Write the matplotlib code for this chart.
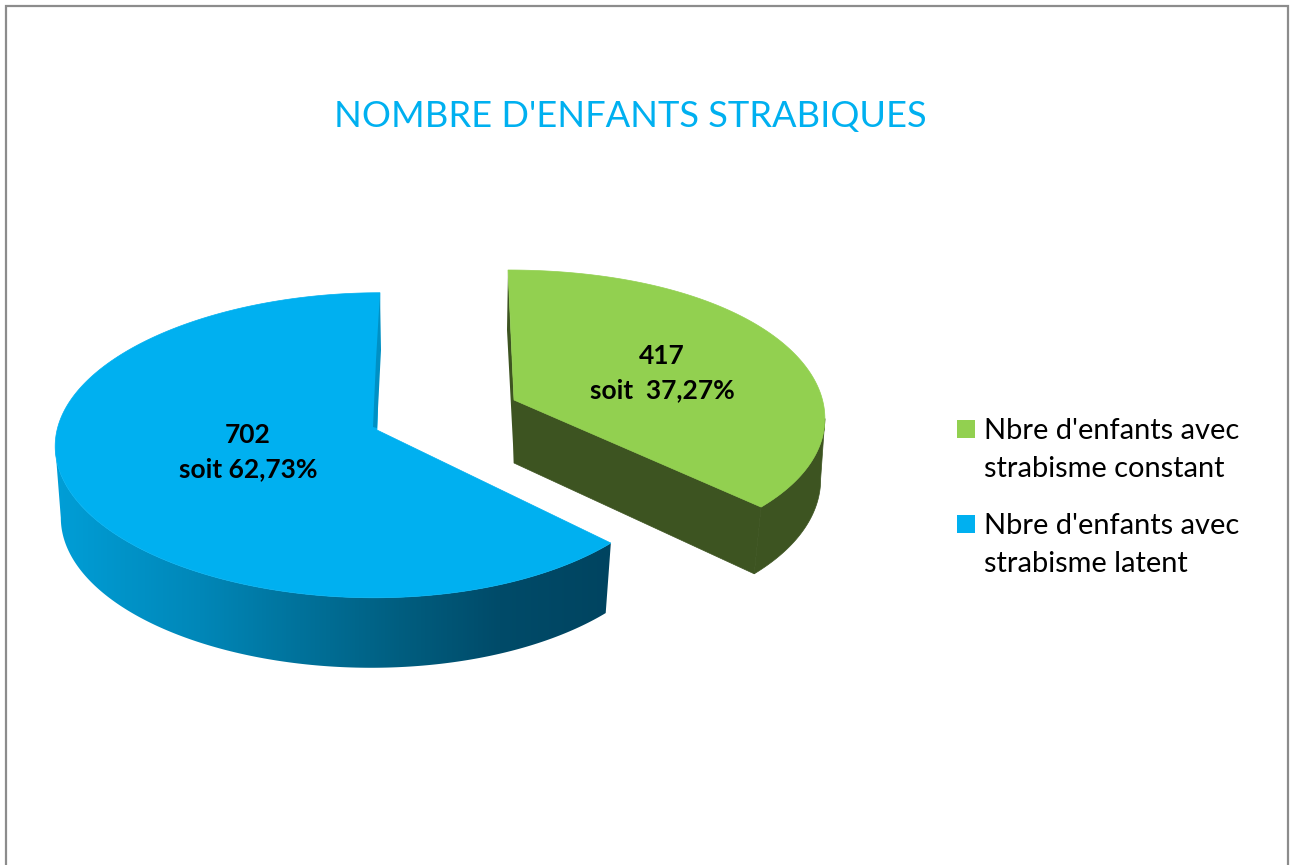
import numpy as np
import matplotlib
matplotlib.use("Agg")
import matplotlib.pyplot as plt
from matplotlib.patches import Polygon, Rectangle
from matplotlib.colors import LinearSegmentedColormap

categories = ["Nbre d'enfants avec\nstrabisme constant", "Nbre d'enfants avec\nstrabisme latent"]
values = [417, 702]
labels = ["417\nsoit  37,27%", "702\nsoit 62,73%"]
title = "NOMBRE D'ENFANTS STRABIQUES"
FONT = "Lato"
GREEN, GREEN_SIDE = "#92D050", "#3D5421"
BLUE = "#00B0F0"
W, H = 1293, 865

fig = plt.figure(figsize=(W / 100, H / 100), dpi=100, facecolor="white")
ax = fig.add_axes([0, 0, 1, 1])
ax.set_xlim(0, W); ax.set_ylim(H, 0); ax.axis("off")

K = 0.10

def rim(t0, t1, ax0, ay0, R, ry, shear, b=0.0, n=300):
    """Project the arc of a tilted disc (clockwise angle from the top, degrees)."""
    t = np.radians(np.linspace(t0, t1, n))
    u, v = np.sin(t), np.cos(t)
    s = 1 / (1 + K * v)
    return np.column_stack([ax0 + (R - b * u) * u * s + shear * v, ay0 - ry * v * s])

# slice angles from the data
a = 360 * values[0] / sum(values)

# frame (open at the bottom edge of the picture)
ax.plot([6, 6, 1288, 1288], [H + 2, 6, 6, H + 2], color="#8C8C8C", lw=1.6, solid_joinstyle="miter", zorder=1)

# ---- blue slice
bx, by = 377, 430
top_b = rim(a, 360, bx, by, 311.8, 151, 3, 8.15)
bot_b = rim(a, 360, bx, by + 70, 307, 151, 6, 7)
i_t, i_b = top_b[:, 0].argmin(), bot_b[:, 0].argmin()
side = np.vstack([top_b[:i_t + 1], bot_b[:i_b + 1][::-1]])
side_patch = Polygon(side, closed=True, fc="none", ec="none", zorder=2)
ax.add_patch(side_patch)
stops_x = np.array([50, 200, 300, 400, 500, 615])
stops_c = ["#009FD8", "#0087B8", "#00729B", "#005E80", "#004B69", "#004460"]
cmap = LinearSegmentedColormap.from_list(
    "side", [((x - 50) / 565, c) for x, c in zip(stops_x, stops_c)])
im = ax.imshow(np.linspace(0, 1, 512)[None, :], cmap=cmap, extent=[50, 615, 680, 430],
               aspect="auto", zorder=2)
im.set_clip_path(side_patch)
ax.set_xlim(0, W); ax.set_ylim(H, 0)
ax.add_patch(Polygon(np.vstack([[bx, by], top_b]), closed=True, fc=BLUE, ec=BLUE, lw=0.5, zorder=3))
# inner wall sliver
wall_b = np.array([top_b[-1], [bx + 4, by - 80], [bx, by - 2], [bx - 4, by - 3], [bx - 1, by - 70]])
ax.add_patch(Polygon(wall_b, closed=True, fc="#0090C4", ec="none", zorder=4))

# ---- green slice
gx, gy = 514, 400
top_g = rim(0, a, gx, gy, 331.5, 143, -6, 23)
bot_g = rim(0, a, gx, gy + 63, 328, 148, 0, 23)
i_t, i_b = top_g[:, 0].argmax(), bot_g[:, 0].argmax()
ax.add_patch(Polygon(np.vstack([top_g[i_t:], bot_g[i_b:][::-1]]), closed=True,
                     fc=GREEN_SIDE, ec=GREEN_SIDE, lw=0.5, zorder=2))
ax.add_patch(Polygon([[gx, gy], top_g[-1], bot_g[-1], [gx, gy + 63]], closed=True,
                     fc=GREEN_SIDE, ec=GREEN_SIDE, lw=0.5, zorder=2))
ax.add_patch(Polygon([top_g[0], [top_g[0][0] - 1, gy - 70], [gx, gy + 63], [gx, gy]], closed=True,
                     fc=GREEN_SIDE, ec="none", zorder=2))
ax.add_patch(Polygon(np.vstack([[gx, gy], top_g]), closed=True, fc=GREEN, ec=GREEN, lw=0.5, zorder=3))

# ---- texts
ax.text(630, 116, title, color=BLUE, fontsize=26.1, family=FONT, ha="center", va="center", zorder=6)
ax.text(662, 373, labels[0], fontsize=19, fontweight="bold", family=FONT, color="black",
        ha="center", va="center", linespacing=1.5, zorder=6)
ax.text(248, 452, labels[1], fontsize=19, fontweight="bold", family=FONT, color="black",
        ha="center", va="center", linespacing=1.5, zorder=6)

for c, col, y in zip(categories, [GREEN, BLUE], [450, 545]):
    ax.text(984, y, c, fontsize=20.9, family=FONT, color="black", ha="left", va="center",
            linespacing=1.55, zorder=6)
for col, y in zip([GREEN, BLUE], [420, 515]):
    ax.add_patch(Rectangle((957, y), 18, 18, fc=col, ec="none", zorder=6))

fig.savefig("out.png", dpi=100, facecolor="white")
